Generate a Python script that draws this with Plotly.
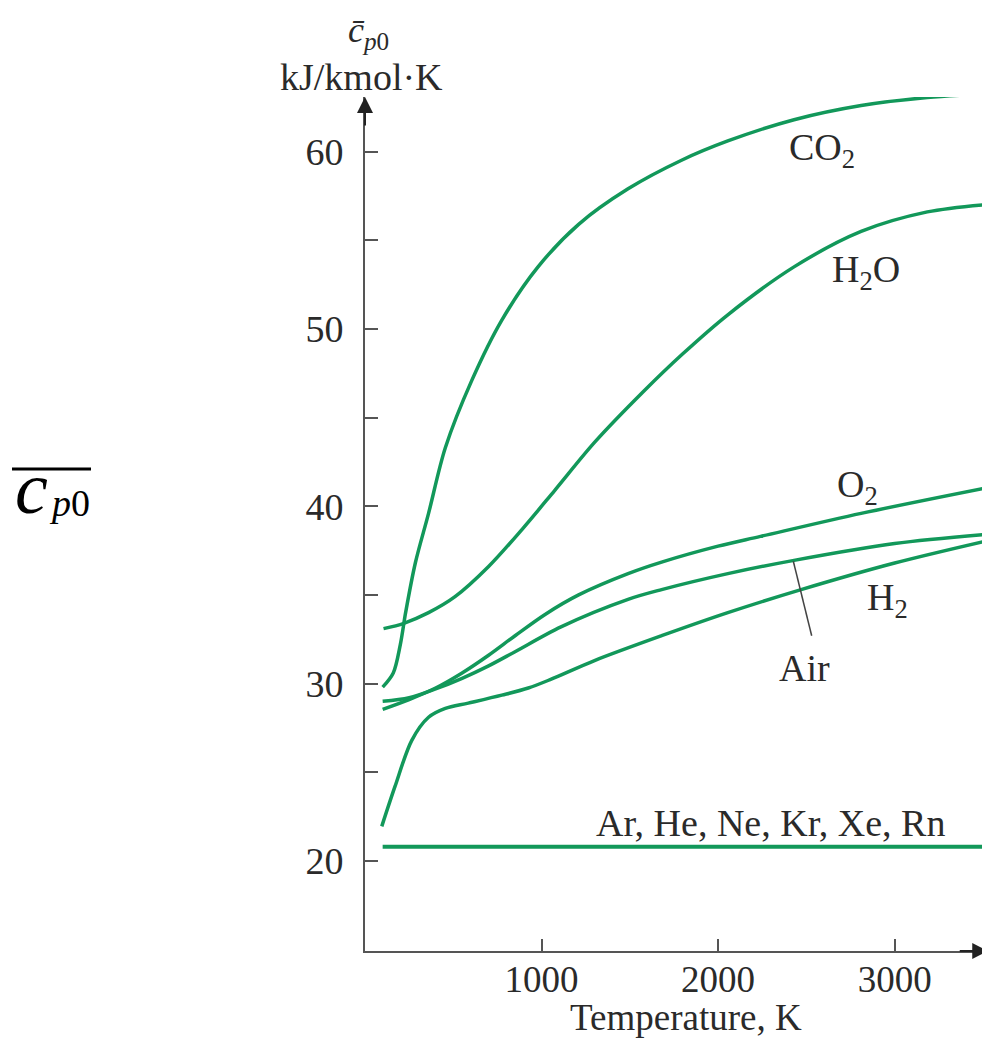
import plotly.graph_objects as go

# ---------------- data ----------------
co2_T = [100, 160, 200, 230, 285, 360, 455, 605, 775, 980, 1210, 1490, 1790, 2055, 2430, 2810, 3185, 3500]
co2_cp = [29.8, 30.6, 32.2, 34.0, 36.8, 39.6, 43.3, 47.1, 50.5, 53.5, 55.9, 57.9, 59.5, 60.6, 61.8, 62.6, 63.05, 63.25]

h2o_T = [105, 220, 360, 510, 700, 890, 1075, 1300, 1580, 1800, 2055, 2430, 2810, 3185, 3500]
h2o_cp = [33.1, 33.4, 34.0, 34.9, 36.6, 38.7, 40.9, 43.6, 46.5, 48.6, 50.8, 53.5, 55.5, 56.6, 57.0]

o2_T = [100, 250, 400, 550, 700, 850, 1020, 1210, 1490, 1680, 2000, 2240, 2810, 3500]
o2_cp = [28.55, 29.1, 29.75, 30.6, 31.6, 32.7, 33.9, 35.0, 36.2, 36.85, 37.75, 38.3, 39.6, 41.0]

air_T = [100, 250, 400, 550, 700, 850, 1110, 1490, 1680, 2055, 2430, 3000, 3500]
air_cp = [29.0, 29.2, 29.7, 30.3, 31.0, 31.8, 33.2, 34.75, 35.3, 36.2, 36.95, 37.9, 38.4]

h2_T = [95, 170, 265, 360, 455, 585, 775, 925, 1055, 1300, 1680, 2055, 2470, 3000, 3500]
h2_cp = [21.95, 24.2, 26.8, 28.1, 28.6, 28.9, 29.35, 29.75, 30.25, 31.3, 32.7, 34.0, 35.3, 36.8, 38.0]

noble_T = [100, 3500]
noble_cp = [20.8, 20.8]

y_tickvals = [20, 25, 30, 35, 40, 45, 50, 55, 60]
y_ticktext = ["20", "", "30", "", "40", "", "50", "", "60"]
x_tickvals = [1000, 2000, 3000]
x_ticktext = ["1000", "2000", "3000"]

labels = [  # text, T, cp
    ("CO<sub>2</sub>", 2588, 60.1),
    ("H<sub>2</sub>O", 2838, 53.2),
    ("O<sub>2</sub>", 2787, 41.1),
    ("H<sub>2</sub>", 2957, 34.7),
    ("Air", 2487, 30.9),
    ("Ar, He, Ne, Kr, Xe, Rn", 2294, 22.15),
]
air_leader = [(2426, 36.9), (2530, 32.7)]

# ---------------- styling ----------------
GREEN = "#12985a"
AXIS = "#555555"
TXT = "#2a2a2a"
FONT = "Liberation Serif"
FS = 38
OFF = 8  # page body margin of the browser
W, H = 982, 1030
ML, MR, MT, MB = 357, 0, 89, 87
XR = [0, 3540]
YR = [14.92, 63.08]

fig = go.Figure()
for T, cp in [(co2_T, co2_cp), (h2o_T, h2o_cp), (o2_T, o2_cp), (air_T, air_cp), (h2_T, h2_cp)]:
    fig.add_trace(go.Scatter(x=T, y=cp, mode="lines",
                             line=dict(color=GREEN, width=3.5, shape="spline", smoothing=0.9),
                             showlegend=False, hoverinfo="skip"))
fig.add_trace(go.Scatter(x=noble_T, y=noble_cp, mode="lines",
                         line=dict(color=GREEN, width=4), showlegend=False, hoverinfo="skip"))

# Air leader line
fig.add_shape(type="line", xref="x", yref="y",
              x0=air_leader[0][0], y0=air_leader[0][1], x1=air_leader[1][0], y1=air_leader[1][1],
              line=dict(color="#444444", width=1.5))

for text, tx, ty in labels:
    fig.add_annotation(x=tx, y=ty, xref="x", yref="y", text=text, showarrow=False,
                       xanchor="center", yanchor="middle",
                       font=dict(family=FONT, size=FS, color=TXT))

# axis arrows
fig.add_annotation(x=XR[1] - 10, y=YR[0], xref="x", yref="y", ax=-30, ay=0, text="",
                   showarrow=True, arrowhead=2, arrowsize=1.6, arrowwidth=2, arrowcolor="#222", standoff=0)
fig.add_annotation(x=XR[0], y=YR[1], xref="x", yref="y", ax=0, ay=30, text="",
                   showarrow=True, arrowhead=2, arrowsize=1.6, arrowwidth=2, arrowcolor="#222", standoff=0)


def px2paper(px, py):
    return ((px - OFF - ML) / (W - ML - MR), (H - MB - (py - OFF)) / (H - MT - MB))


def paper_text(px, py, text, size, color=TXT):
    x0, y0 = px2paper(px, py)
    fig.add_annotation(x=x0, y=y0, xref="paper", yref="paper", showarrow=False,
                       xanchor="center", yanchor="middle", text=text,
                       font=dict(family=FONT, size=size, color=color))


# y-axis title above arrow
paper_text(368, 32, "<i>c\u0304</i><sub><i>p</i>0</sub>", 36)
paper_text(361, 77, "kJ/kmol\u00b7K", FS)
# x-axis title
paper_text(686, 1017, "Temperature, K", 37)
# big left symbol
paper_text(32, 488, "<i>c</i>", 74, "#000")
paper_text(69, 503, "<i>p</i>0", 38, "#000")
ox0, oy = px2paper(12, 469)
ox1, _ = px2paper(91, 469)
fig.add_shape(type="line", xref="paper", yref="paper", x0=ox0, x1=ox1, y0=oy, y1=oy,
              line=dict(color="#000", width=3))

fig.update_xaxes(range=XR, showgrid=False, zeroline=False, showline=True, linecolor=AXIS, linewidth=2,
                 automargin=False,
                 tickmode="array", tickvals=x_tickvals, ticktext=x_ticktext,
                 ticks="inside", ticklen=12, tickwidth=1.5, tickcolor=AXIS,
                 tickfont=dict(family=FONT, size=37, color=TXT), ticklabelstandoff=-5)
fig.update_yaxes(range=YR, showgrid=False, zeroline=False, showline=True, linecolor=AXIS, linewidth=2,
                 automargin=False,
                 tickmode="array", tickvals=y_tickvals, ticktext=y_ticktext,
                 ticks="inside", ticklen=13, tickwidth=1.5, tickcolor=AXIS,
                 tickfont=dict(family=FONT, size=FS, color=TXT), ticklabelstandoff=12)

fig.update_layout(width=W, height=H, margin=dict(l=ML, r=MR, t=MT, b=MB, autoexpand=False),
                  plot_bgcolor="white", paper_bgcolor="white")

fig.write_html("out.html")
